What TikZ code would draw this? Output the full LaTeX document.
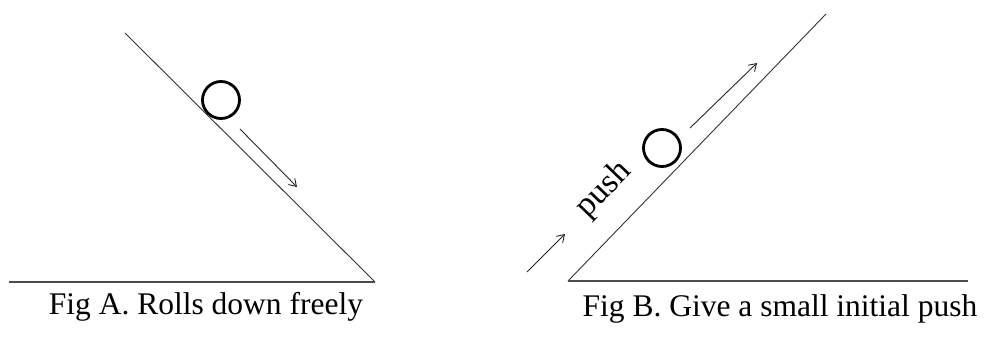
\documentclass[tikz,border=0pt]{standalone}
\usepackage{fontspec}
\setmainfont{Liberation Serif}
\usetikzlibrary{arrows.meta,positioning,calc}

\begin{document}
\begin{tikzpicture}[x=1pt, y=-1pt,
    slope/.style={line width=0.9pt, black!80},
    ground/.style={line width=1.6pt, black!70},
    ball/.style={circle, draw, line width=2.8pt, minimum size=37pt, inner sep=0pt},
    motion/.style={line width=0.9pt, black!85, -{Straight Barb[length=7pt, width=9pt]}},
    caption/.style={font=\fontsize{31.5}{34}\selectfont, anchor=base}]
    \useasboundingbox (0,0) rectangle (989,345);

    % Points
    \foreach \x/\y/\name in {125/33/atop, 375/282/abot, 9/282/aleft, 568/281/bbot, 826/14/btop, 968/281/bright} {
        \coordinate (\name) at (\x,\y);
    }

    % Fig A
    \draw[slope] (atop) -- (abot);
    \draw[ground] (aleft) -- (abot);
    \node[ball] (balla) at (221,100) {};
    \coordinate (aarrs) at (240,129);
    \coordinate (aarre) at (297,187);
    \draw[motion] (aarrs) -- (aarre);

    % Fig B
    \draw[slope] (bbot) -- (btop);
    \draw[ground] (bbot) -- (bright);
    \node[ball] (ballb) at (662,148) {};
    \coordinate (barrs) at (690,128);
    \coordinate (barre) at (757,63);
    \draw[motion] (barrs) -- (barre);
    \coordinate (pusha) at (527,272);
    \coordinate (pushb) at (565,234);
    \draw[motion] (pusha) -- (pushb);
    \node[rotate=46, font=\fontsize{34}{36}\selectfont] (push) at (604,190) {push};

    % Labels
    \node[caption] (capa) at (206,314) {Fig A. Rolls down freely};
    \node[caption] (capb) at (780,316) {Fig B. Give a small initial push};
\end{tikzpicture}
\end{document}
